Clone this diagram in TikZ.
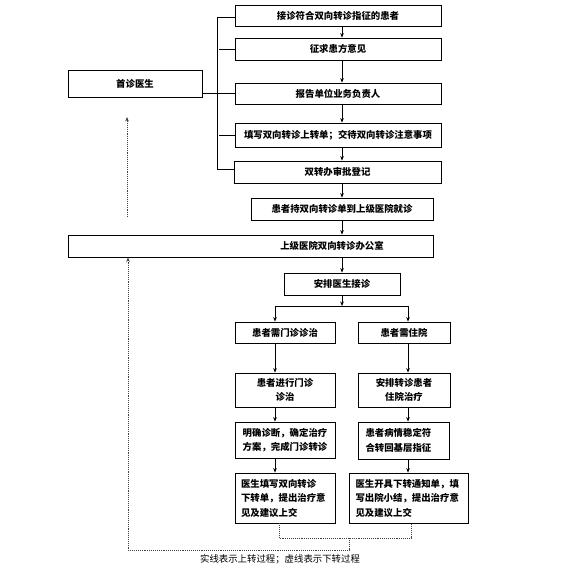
\documentclass[tikz,border=0pt]{standalone}
\usepackage{fontspec}
\setmainfont{Noto Sans CJK SC}
\usetikzlibrary{arrows.meta}
\begin{document}
\begin{tikzpicture}[x=1pt,y=-1pt,
  box/.style={draw, line width=0.8pt, inner sep=0pt, font=\bfseries\fontsize{9.4}{14.5}\selectfont},
  mbox/.style={box, align=center},
  lbox/.style={box, align=left},
  arr/.style={line width=0.8pt, -{Stealth[length=4.5pt,width=3.6pt]}},
  ln/.style={line width=0.8pt},
  dot/.style={line width=0.9pt, densely dotted, black!75},
  dotarr/.style={dot, -{Stealth[length=4.5pt,width=3.6pt]}}
]
\useasboundingbox (0,0) rectangle (588,571);

% left column
\node[box, minimum width=134pt, minimum height=27pt] (doc) at (135,83.5) {首诊医生};

% top chain
\node[box, minimum width=206pt, minimum height=21pt] (b1) at (338,15.5) {接诊符合双向转诊指征的患者};
\node[box, minimum width=206pt, minimum height=22pt] (b2) at (338,49) {征求患方意见};
\node[box, minimum width=206pt, minimum height=21pt] (b3) at (338,93.5) {报告单位业务负责人};
\node[box, minimum width=206pt, minimum height=24pt] (b4) at (338,135) {填写双向转诊上转单；交待双向转诊注意事项};
\node[box, minimum width=207pt, minimum height=22pt] (b5) at (337.5,172) {双转办审批登记};
\node[box, minimum width=182pt, minimum height=22pt] (b6) at (342,209) {患者持双向转诊单到上级医院就诊};
\node[box, minimum width=365pt, minimum height=22pt] (b7) at (250.5,246) {\hspace*{163pt}上级医院双向转诊办公室};
\node[box, minimum width=116pt, minimum height=22pt] (b8) at (342,284) {安排医生接诊};

% branches
\node[box, minimum width=100pt, minimum height=21pt] (b9) at (285,332.5) {患者需门诊诊治};
\node[box, minimum width=92pt, minimum height=21pt] (b10) at (404,332.5) {患者需住院};
\node[mbox, minimum width=100pt, minimum height=34pt] (b11) at (285,390) {患者进行门诊\\诊治};
\node[mbox, minimum width=92pt, minimum height=34pt] (b12) at (404,390) {安排转诊患者\\住院治疗};
\node[mbox, minimum width=100pt, minimum height=36pt] (b13) at (285,440) {明确诊断，确定治疗\\方案，完成门诊转诊};
\node[lbox, text width=76pt, minimum width=91pt, minimum height=37pt] (b14) at (403.5,440.5) {患者病情稳定符\\合转回基层指征};
\node[lbox, text width=88pt, minimum width=100pt, minimum height=50pt] (b15) at (285,498) {医生填写双向转诊\\下转单，提出治疗意\\见及建议上交};
\node[lbox, text width=106pt, minimum width=119pt, minimum height=50pt] (b16) at (408.5,498) {医生开具下转通知单，填\\写出院小结，提出治疗意\\见及建议上交};

% legend
\node[font=\fontsize{9.4}{11}\selectfont, inner sep=0pt] (leg) at (280,559) {实线表示上转过程；虚线表示下转过程};

% bracket on the left of top chain
\coordinate (v1) at (217,17);
\coordinate (v5) at (217,169);
\draw[ln] (b1.west |- v1) -- (v1) -- (v5) -- (b5.west |- v5);
\draw[ln] (219,49) -- (b2.west);
\draw[ln] (219,135) -- (b4.west);
\draw[ln] (doc.east |- b3) -- (b3.west);

% vertical arrows
\draw[arr] (b1.south -| b6) -- (b2.north -| b6);
\draw[arr] (b2.south -| b6) -- (b3.north -| b6);
\draw[arr] (b3.south -| b6) -- (b4.north -| b6);
\draw[arr] (b4.south -| b6) -- (b5.north -| b6);
\draw[arr] (b5.south -| b6) -- (b6.north);
\draw[arr] (b6.south) -- (b7.north -| b6);
\draw[arr] (b7.south -| b6) -- (b8.north);

\coordinate (cm) at (342,306);
\coordinate (cl) at (275,306);
\coordinate (cr) at (408,306);
\draw[arr] (b8.south) -- (cm);
\draw[ln] (cl) -- (cr);
\draw[arr] (cl) -- (cl |- b9.north);
\draw[arr] (cr) -- (cr |- b10.north);
\draw[arr] (b9.south -| cl) -- (b11.north -| cl);
\draw[arr] (b10.south -| cr) -- (b12.north -| cr);
\draw[arr] (b11.south -| cl) -- (b13.north -| cl);
\draw[arr] (b12.south -| cr) -- (b14.north -| cr);
\draw[arr] (b13.south -| cl) -- (b15.north -| cl);
\draw[arr] (b14.south -| cr) -- (b16.north -| cr);

% dotted up arrow (free)
\coordinate (ua) at (127,217);
\coordinate (ub) at (127,117);
\draw[dotarr] (ua) -- (ub);

% dotted return path
\coordinate (dl) at (279,538);
\coordinate (dr) at (411,538);
\coordinate (dm) at (349,538);
\coordinate (dd) at (349,550);
\coordinate (de) at (128,550);
\draw[dot] (b15.south -| dl) -- (dl) -- (dr) -- (b16.south -| dr);
\draw[dotarr] (dm) -- (dd) -- (de) -- (b7.south -| de);
\end{tikzpicture}
\end{document}
